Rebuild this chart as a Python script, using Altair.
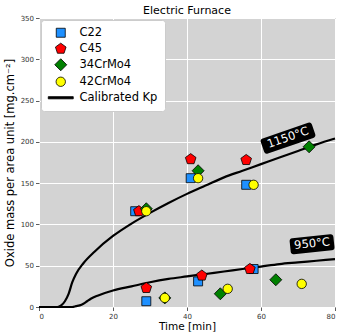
import altair as alt
import pandas as pd

# ---- measured points ----
series_names = ["C22", "C45", "34CrMo4", "42CrMo4"]
c22_t = [26, 41, 56, 29, 43, 58]
c22_m = [116, 156, 148, 7, 31, 46]
c45_t = [27, 41, 56, 29, 44, 57]
c45_m = [116, 179, 178, 23, 38, 46]
crmo34_t = [29, 43, 73, 34, 49, 64]
crmo34_m = [119, 165, 194, 11, 16, 33]
crmo42_t = [29, 43, 58, 34, 51, 71]
crmo42_m = [116, 156, 148, 11, 22, 28]

# ---- calibrated Kp curves ----
k1150_t = [0, 5, 6, 7, 8, 9, 10, 12, 15, 20, 25, 30, 35, 40, 45, 50, 55, 60, 65, 70, 75, 80]
k1150_m = [0, 0, 2, 7, 16, 30, 40, 53, 67, 86, 101, 114, 126, 137, 147, 157, 165, 173, 181, 189, 197, 204]
k950_t = [0, 9, 10, 11, 12, 13, 14, 16, 20, 25, 30, 35, 40, 45, 50, 55, 60, 65, 70, 75, 80]
k950_m = [0, 0, 1, 2, 4, 7, 10, 14, 20, 25, 30, 34, 37, 40, 43, 46, 49, 52, 54, 56, 58]

label_text = ["1150°C", "950°C"]
label_t = [67.3, 73.8]
label_m = [204.5, 76]
label_angle = [341, 354]

colors = ["#1E90FF", "#FF0000", "#008000", "#FFFF00", "#000000"]
edge = ["#000000"] * 5
# symbol outlines in pixel units (drawn with size=4 -> unit scale)
sq = "M-4.5,-4.5L4.5,-4.5L4.5,4.5L-4.5,4.5Z"
pent = "M0,-5.6L5.3,-1.7L3.3,4.5L-3.3,4.5L-5.3,-1.7Z"
dia = "M0,-6L6,0L0,6L-6,0Z"
circ = "M-4.7,0A4.7,4.7,0,1,0,4.7,0A4.7,4.7,0,1,0,-4.7,0Z"
bar = "M-12.5,-1.1L12.5,-1.1L12.5,1.1L-12.5,1.1Z"
shapes = [sq, pent, dia, circ, bar]
legend_domain = series_names + ["Calibrated Kp"]

rows = []
for name, ts, ms in zip(series_names, [c22_t, c45_t, crmo34_t, crmo42_t],
                        [c22_m, c45_m, crmo34_m, crmo42_m]):
    for t, m in zip(ts, ms):
        rows.append({"series": name, "t": t, "m": m})
pts = pd.DataFrame(rows)

crv = pd.concat([
    pd.DataFrame({"temp": "1150", "t": k1150_t, "m": k1150_m}),
    pd.DataFrame({"temp": "950", "t": k950_t, "m": k950_m}),
])
lab = pd.DataFrame({"txt": label_text, "t": label_t, "m": label_m, "ang": label_angle})

xs = alt.Scale(domain=[0, 80], nice=False)
ys = alt.Scale(domain=[0, 350], nice=False)
xax = alt.Axis(values=list(range(0, 81, 10)), title="Time [min]")
yax = alt.Axis(values=list(range(0, 351, 50)), title="Oxide mass per area unit [mg.cm⁻²]")

lines = alt.Chart(crv).mark_line(color="black", strokeWidth=2.2, interpolate="monotone").encode(
    x=alt.X("t:Q", scale=xs, axis=xax),
    y=alt.Y("m:Q", scale=ys, axis=yax),
    detail="temp:N",
)

legend = alt.Legend(
    title=None, orient="top-left", offset=2,
    fillColor="white", strokeColor="#cccccc", cornerRadius=3,
    padding=7, rowPadding=2, labelFontSize=11.5, labelFont="DejaVu Sans",
    labelColor="black", labelOffset=13, symbolOffset=7, symbolSize=4,
    symbolStrokeWidth=0.8, symbolOpacity=1,
)

points = alt.Chart(pts).mark_point(filled=True, opacity=1, size=4, strokeWidth=0.8).encode(
    x=alt.X("t:Q", scale=xs),
    y=alt.Y("m:Q", scale=ys),
    color=alt.Color("series:N", scale=alt.Scale(domain=legend_domain, range=colors), legend=legend),
    stroke=alt.Stroke("series:N", scale=alt.Scale(domain=legend_domain, range=edge), legend=legend),
    shape=alt.Shape("series:N", scale=alt.Scale(domain=legend_domain, range=shapes), legend=legend),
)

box1 = "M-24,-8L24,-8Q27,-8 27,-5L27,5Q27,8 24,8L-24,8Q-27,8 -27,5L-27,-5Q-27,-8 -24,-8Z"
box2 = "M-19,-8L19,-8Q22,-8 22,-5L22,5Q22,8 19,8L-19,8Q-22,8 -22,5L-22,-5Q-22,-8 -19,-8Z"

lab1 = lab.iloc[[0]]
lab2 = lab.iloc[[1]]

def label_layer(d, path):
    b = alt.Chart(d).mark_point(shape=path, size=4, filled=True, color="black", opacity=1).encode(
        x=alt.X("t:Q", scale=xs), y=alt.Y("m:Q", scale=ys), angle=alt.Angle("ang:Q", scale=None))
    t = alt.Chart(d).mark_text(color="white", fontSize=11.5, font="DejaVu Sans", align="center",
                               baseline="middle").encode(
        x=alt.X("t:Q", scale=xs), y=alt.Y("m:Q", scale=ys), angle=alt.Angle("ang:Q", scale=None),
        text="txt:N")
    return b + t

chart = alt.layer(lines, points, label_layer(lab1, box1), label_layer(lab2, box2)).properties(
    width=296, height=289,
    title=alt.Title("Electric Furnace", fontSize=11, font="DejaVu Sans", fontWeight="normal",
                    color="black", offset=-2),
    autosize=alt.AutoSizeParams(type="none"),
    padding={"left": 39, "top": 18, "right": 10, "bottom": 29},
).configure_view(
    fill="#d3d3d3", stroke="#666666", strokeWidth=1,
).configure_axis(
    grid=True, gridColor="white", gridWidth=1, domain=False,
    tickColor="#333333", tickSize=3.5, tickWidth=0.8,
    labelFontSize=7, labelFont="DejaVu Sans", labelColor="#333333", labelPadding=2,
    titleFontSize=10.5, titleFont="DejaVu Sans", titleFontWeight="normal", titleColor="black",
).configure_axisX(titlePadding=2).configure_axisY(titlePadding=5, titleFontSize=11.5)

chart.save("out.html", embed_options={"renderer": "svg", "actions": False})
